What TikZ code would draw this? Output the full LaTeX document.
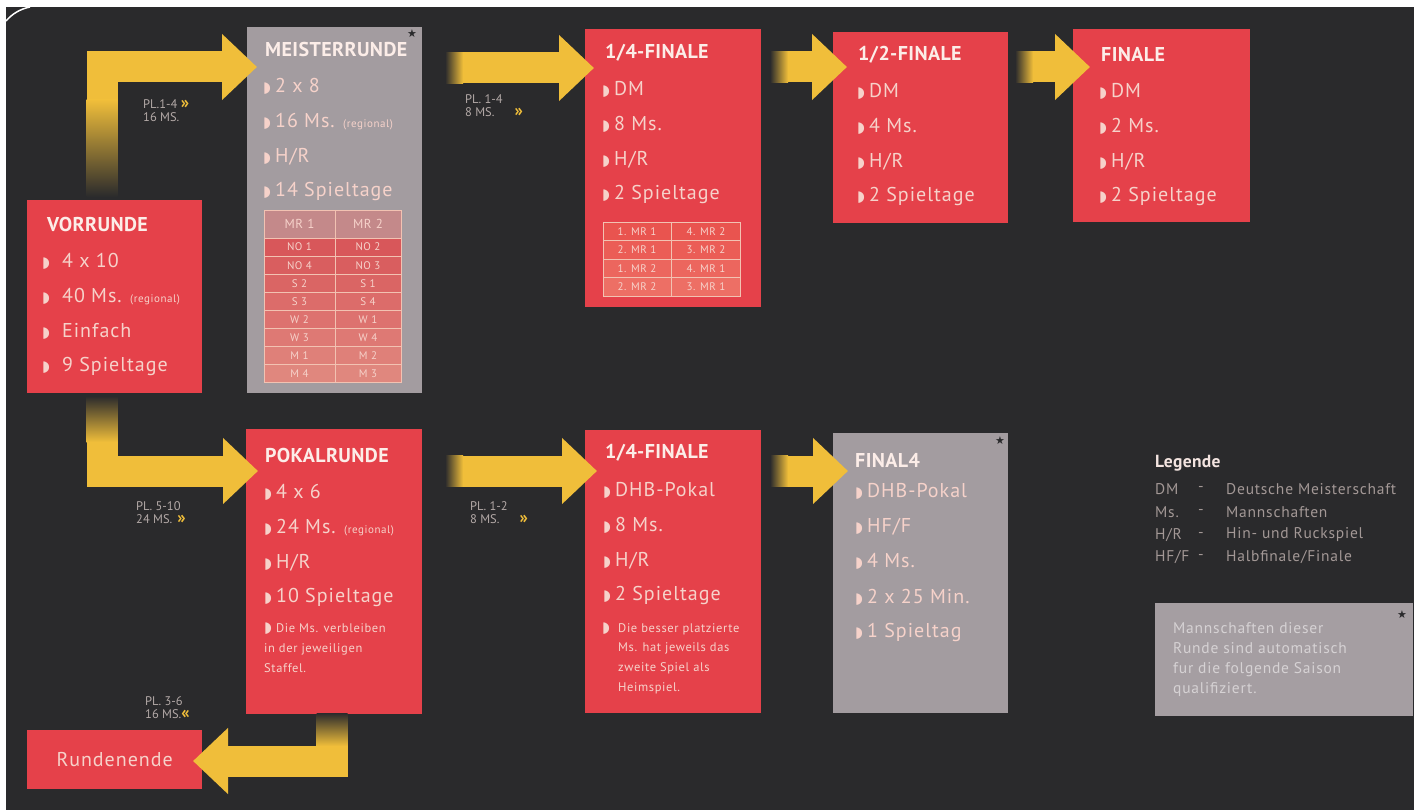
\documentclass[tikz,border=0pt]{standalone}
\usepackage{fontspec}
\setmainfont{PT Sans}
\newfontfamily\symfont{DejaVu Sans}
\newfontfamily\itemfont[LetterSpace=5]{PT Sans}
\newfontfamily\titlefont[LetterSpace=2]{PT Sans}
\usetikzlibrary{arrows.meta}

\definecolor{bgdark}{HTML}{2A2A2C}
\definecolor{boxred}{HTML}{E5414A}
\definecolor{boxgrey}{HTML}{A39CA0}
\definecolor{arrowyel}{HTML}{F0BE3A}
\definecolor{titlecol}{HTML}{FCEDE8}
\definecolor{itemcol}{HTML}{F6D2CA}
\definecolor{lblcol}{HTML}{B3A9A7}
\definecolor{legcol}{HTML}{A39896}
\definecolor{rowtop}{HTML}{D8575A}
\definecolor{rowbot}{HTML}{E18C82}
\definecolor{rowhead}{HTML}{C4898A}
\definecolor{tabline}{HTML}{F2C2B2}
\definecolor{qrowtop}{HTML}{E9544F}
\definecolor{qrowbot}{HTML}{EE7268}

\newcommand\bul{{\symfont\fontsize{15}{15}\selectfont ◗}}
\newcommand\chev[1]{{\bfseries\fontsize{17}{13}\selectfont\color{arrowyel}#1}}
\newcommand\regional{{\fontsize{11}{10}\selectfont (regional)}}

\begin{document}
\begin{tikzpicture}[x=1pt,y=-1pt,
    box/.style={anchor=north west, inner sep=0pt, minimum width=175pt},
    redbox/.style={box, fill=boxred},
    greybox/.style={box, fill=boxgrey},
    title/.style={anchor=west, inner sep=0pt, text=titlecol, font=\titlefont\bfseries\fontsize{20}{22}\selectfont},
    item/.style={anchor=west, inner sep=0pt, text=itemcol, font=\itemfont\fontsize{20}{22}\selectfont},
    note/.style={anchor=north west, inner sep=0pt, text=itemcol, align=left, font=\itemfont\fontsize{12.5}{19.7}\selectfont},
    lbl/.style={anchor=north west, inner sep=0pt, text=lblcol, align=left, font=\fontsize{12.5}{13}\selectfont},
    cell/.style={inner sep=0pt, text=itemcol, font=\itemfont\fontsize{11}{11}\selectfont},
    star/.style={inner sep=0pt, text=bgdark, font=\symfont\fontsize{11}{11}\selectfont},
    flow/.style={draw=arrowyel, line width=31pt, -{Triangle[width=64pt,length=35pt]}},
    legend/.style={anchor=west, inner sep=0pt, text=legcol, font=\itemfont\fontsize{15.5}{17}\selectfont}]

% background
\fill[white] (0,0) rectangle (1425,810);
\fill[bgdark] (6,7) rectangle (1414,810);
\draw[white, line width=1.5pt] (6,21) .. controls (12,14) and (20,9) .. (30,7);

% boxes
\node[redbox, minimum height=193pt] (vr) at (27,200) {};
\node[greybox, minimum height=366pt] (mr) at (247,27) {};
\node[redbox, minimum width=176pt, minimum height=278pt] (qf) at (585,29) {};
\node[redbox, minimum height=191pt] (sf) at (833,32) {};
\node[redbox, minimum width=177pt, minimum height=193pt] (fi) at (1073,29) {};
\node[redbox, minimum width=176pt, minimum height=285pt] (pr) at (246,429) {};
\node[redbox, minimum width=176pt, minimum height=283pt] (pq) at (585,430) {};
\node[greybox, minimum height=280pt] (f4) at (833,433) {};
\node[redbox, minimum height=59pt] (re) at (27,730) {};
\node[greybox, minimum width=258pt, minimum height=113pt, fill=boxgrey!98!white] (sb) at (1155,603) {};

% titles
\node[title] (vr-t) at (47,225) {VORRUNDE};
\node[title] (mr-t) at (265,50) {MEISTERRUNDE};
\node[title] (qf-t) at (605,53) {1/4-FINALE};
\node[title] (sf-t) at (858,55) {1/2-FINALE};
\node[title] (fi-t) at (1101,55) {FINALE};
\node[title] (pr-t) at (265,455) {POKALRUNDE};
\node[title] (pq-t) at (605,453) {1/4-FINALE};
\node[title] (f4-t) at (855,460) {FINAL4};
\node[star] (mr-s) at (412,34) {★};
\node[star] (f4-s) at (1000,441) {★};

% items
\foreach \t [count=\i] in {4 x 10, 40 Ms. \regional, Einfach, 9 Spieltage}
  \node[item] (vr-\i) at (42,{225.7+35.3*\i}) {\bul\hspace{12pt}\t};
\foreach \t [count=\i] in {2 x 8, 16 Ms. \regional, H/R, 14 Spieltage}
  \node[item] (mr-\i) at (263,{50.7+35.3*\i}) {\bul\hspace{4pt}\t};
\foreach \t [count=\i] in {DM, 8 Ms., H/R, 2 Spieltage}
  \node[item] (qf-\i) at (602,{53.7+35.3*\i}) {\bul\hspace{4pt}\t};
\foreach \t [count=\i] in {DM, 4 Ms., H/R, 2 Spieltage}
  \node[item] (sf-\i) at (857,{55.7+35.3*\i}) {\bul\hspace{4pt}\t};
\foreach \t [count=\i] in {DM, 2 Ms., H/R, 2 Spieltage}
  \node[item] (fi-\i) at (1099,{55.7+35.3*\i}) {\bul\hspace{4pt}\t};
\foreach \t [count=\i] in {4 x 6, 24 Ms. \regional, H/R, 10 Spieltage}
  \node[item] (pr-\i) at (264,{456.7+35.3*\i}) {\bul\hspace{4pt}\t};
\foreach \t [count=\i] in {DHB-Pokal, 8 Ms., H/R, 2 Spieltage}
  \node[item] (pq-\i) at (603,{454.7+35.3*\i}) {\bul\hspace{4pt}\t};
\foreach \t [count=\i] in {DHB-Pokal, HF/F, 4 Ms., 2 x 25 Min., 1 Spieltag}
  \node[item] (f4-\i) at (855,{455.7+35.3*\i}) {\bul\hspace{4pt}\t};

\node[note] (pr-n) at (264,623) {\bul\hspace{4pt}Die Ms. verbleiben\\in der jeweiligen\\Staffel.};
\node[note] (pq-b) at (602,623) {\bul};
\node[note] (pq-n) at (618,623) {Die besser platzierte\\Ms. hat jeweils das\\zweite Spiel als\\Heimspiel.};
\node[item, anchor=center] (re-t) at (re.center) {Rundenende};

% table Meisterrunde
\fill[rowhead] (264,210) rectangle (401,238);
\node[cell, font=\itemfont\fontsize{13}{13}\selectfont] (mr-h1) at (299.5,224) {MR 1};
\node[cell, font=\itemfont\fontsize{13}{13}\selectfont] (mr-h2) at (368,224) {MR 2};
\foreach \a/\b [count=\i] in {NO 1/NO 2, NO 4/NO 3, S 2/S 1, S 3/S 4, W 2/W 1, W 3/W 4, M 1/M 2, M 4/M 3}{
  \pgfmathtruncatemacro\mix{100-13*(\i-1)}
  \fill[rowtop!\mix!rowbot] (264,{219.9+18.1*\i}) rectangle (401,{238+18.1*\i});
  \node[cell] (mr-a\i) at (299.5,{229+18.1*\i}) {\a};
  \node[cell] (mr-b\i) at (368,{229+18.1*\i}) {\b};
}
\foreach \i in {0,...,8}
  \draw[tabline, line width=0.8pt] (264,{238+18.1*\i}) -- (401,{238+18.1*\i});
\draw[tabline, line width=0.8pt] (264,210) rectangle (401,382.8) (335,210) -- (335,382.8);

% table 1/4-Finale
\foreach \a/\b [count=\i] in {1. MR 1/4. MR 2, 2. MR 1/3. MR 2, 1. MR 2/4. MR 1, 2. MR 2/3. MR 1}{
  \pgfmathtruncatemacro\mix{100-30*(\i-1)}
  \fill[qrowtop!\mix!qrowbot] (603,{203.5+18.5*\i}) rectangle (740,{222+18.5*\i});
  \node[cell] (qf-a\i) at (637,{212.75+18.5*\i}) {\a};
  \node[cell] (qf-b\i) at (706,{212.75+18.5*\i}) {\b};
}
\foreach \i in {1,2,3}
  \draw[tabline, line width=0.8pt] (603,{222+18.5*\i}) -- (740,{222+18.5*\i});
\draw[tabline, line width=0.8pt] (603,222) rectangle (740,296) (671,222) -- (671,296);

% arrows
\coordinate (vr-up) at (102,196);
\coordinate (mr-in) at (257,67);
\coordinate (mr-out) at (445,68);
\coordinate (qf-in) at (594,68);
\coordinate (qf-out) at (770,67);
\coordinate (sf-in) at (847,67);
\coordinate (sf-out) at (1015,67);
\coordinate (fi-in) at (1090,67);
\coordinate (vr-down) at (102,397);
\coordinate (pr-in) at (258,471);
\coordinate (pr-out) at (445,471);
\coordinate (pq-in) at (597,471);
\coordinate (pq-out) at (770,471);
\coordinate (f4-in) at (848,471);
\coordinate (pr-down) at (332,714);
\coordinate (re-in) at (193,761);

\draw[flow] (vr-up) |- (mr-in);
\draw[flow] (mr-out) -- (qf-in);
\draw[flow] (qf-out) -- (sf-in);
\draw[flow] (sf-out) -- (fi-in);
\draw[flow] (vr-down) |- (pr-in);
\draw[flow] (pr-out) -- (pq-in);
\draw[flow] (pq-out) -- (f4-in);
\draw[flow] (pr-down) |- (re-in);

% fading ends
\shade[top color=arrowyel, bottom color=bgdark] (86.5,100) rectangle (117.5,197);
\shade[top color=bgdark, bottom color=arrowyel] (86.5,396) rectangle (117.5,442);
\shade[top color=bgdark, bottom color=arrowyel] (316.5,713) rectangle (347.5,746);
\foreach \x/\y in {445/68, 770/67, 1015/67, 445/471, 770/471}
  \shade[left color=bgdark, right color=arrowyel] (\x,\y-15.5) rectangle (\x+18,\y+15.5);

% labels
\node[lbl] (l1) at (143,99) {PL.1-4 \chev{»}\\16 MS.};
\node[lbl] (l2) at (465,94) {PL. 1-4\\8 MS.\hspace{20pt}\chev{»}};
\node[lbl] (l3) at (136,501) {PL. 5-10\\24 MS.\hspace{5pt}\chev{»}};
\node[lbl] (l4) at (470,501) {PL. 1-2\\8 MS.\hspace{20pt}\chev{»}};
\node[lbl] (l5) at (145,696) {PL. 3-6\\16 MS.\chev{«}};

% legend
\node[anchor=west, inner sep=0pt, text=titlecol!90!legcol, font=\titlefont\bfseries\fontsize{17.5}{19}\selectfont] (lg-t) at (1155,463) {Legende};
\foreach \a/\b [count=\i] in {{DM}/{Deutsche Meisterschaft}, {Ms.}/{Mannschaften}, {H/R}/{Hin- und Ruckspiel}, {HF/F}/{Halbfinale/Finale}}{
  \node[legend] (lg-a\i) at (1155,{466.5+22.7*\i}) {\a};
  \node[legend] (lg-d\i) at (1198,{466.5+22.7*\i}) {-};
  \node[legend] (lg-b\i) at (1226,{466.5+22.7*\i}) {\b};
}
\node[star] (sb-s) at (1402,615) {★};
\node[anchor=north west, inner sep=0pt, align=left, text=boxgrey!45!white, font=\itemfont\fontsize{15.5}{20}\selectfont] (sb-t) at (1173,622) {Mannschaften dieser\\Runde sind automatisch\\fur die folgende Saison\\qualifiziert.};
\end{tikzpicture}
\end{document}
